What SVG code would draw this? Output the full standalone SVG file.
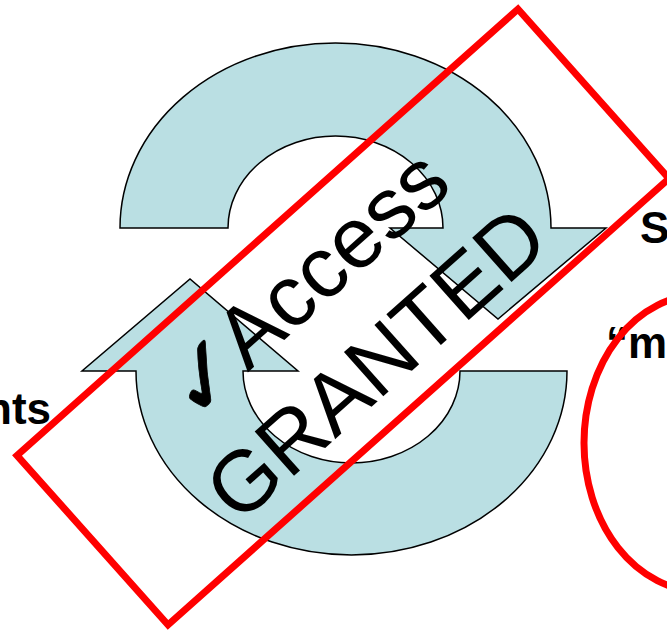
<svg xmlns="http://www.w3.org/2000/svg" width="667" height="634" viewBox="0 0 667 634">
<style>
.arrow{fill:#BADFE3;stroke:#000;stroke-width:1.5;stroke-linejoin:miter}
.lbl{font-family:"Liberation Sans",Arial,sans-serif;font-weight:bold;font-size:44px;fill:#000}
.stamp{font-family:"Liberation Sans",Arial,sans-serif;font-size:86px;fill:#000}
.red{fill:none;stroke:#FF0000;stroke-width:7}
</style>
<rect width="667" height="634" fill="#fff"/>
<g id="labels">
<text class="lbl" x="51" y="424" text-anchor="end">nts</text>
<text class="lbl" x="640" y="243">S</text>
<text class="lbl" x="606" y="358">“m</text>
</g>
<g id="connectors">
<path id="top-arrow" class="arrow" d="M120,228 A215.5,185 0 0 1 551,228 L606,228 L498,319 L390,228 L443,228 A107.5,92 0 0 0 228,228 Z"/>
<path id="bottom-arrow" class="arrow" d="M567,371 A215.5,184 0 0 1 136,371 L82,371 L190,279 L298,371 L243,371 A108.5,92 0 0 0 460,371 Z"/>
</g>
<g id="stamp" transform="translate(343,317) rotate(-41.7)">
<text x="-183" y="-15" font-family="DejaVu Sans,sans-serif" font-size="96" fill="#000" stroke="#000" stroke-width="0.8">✓</text>
<text class="stamp" x="-108" y="-22">Access</text>
<text class="stamp" x="-6" y="86" text-anchor="middle">GRANTED</text>
<rect class="red" x="-335.5" y="-113.5" width="671" height="227"/>
</g>
<g id="ellipse">
<ellipse class="red" cx="700" cy="443" rx="116" ry="148"/>
</g>
</svg>
